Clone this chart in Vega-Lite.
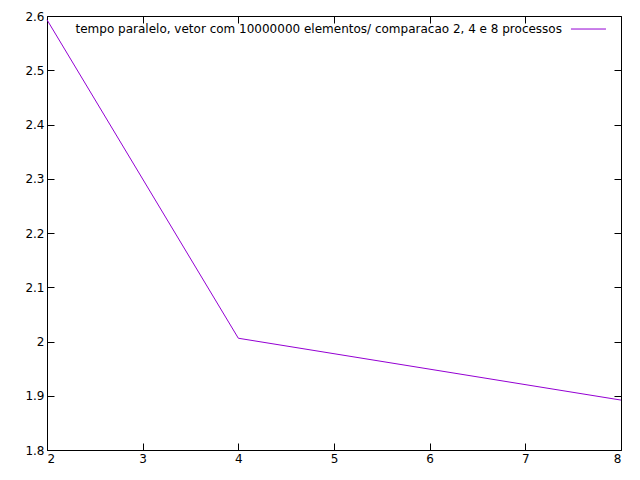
{
  "$schema": "https://vega.github.io/schema/vega-lite/v6.json",
  "width": 574,
  "height": 434,
  "autosize": "none",
  "padding": {"left": 47, "top": 16, "right": 19, "bottom": 30},
  "background": "white",
  "config": {
    "view": {"stroke": "black", "strokeWidth": 1},
    "font": "DejaVu Sans",
    "axis": {
      "grid": false, "domain": false, "tickColor": "black", "tickSize": -7,
      "labelFont": "DejaVu Sans", "labelFontSize": 12, "labelColor": "black",
      "labelPadding": 10, "title": null
    }
  },
  "data": {
    "values": [
      {"processos": 2, "tempo": 2.593},
      {"processos": 4, "tempo": 2.006},
      {"processos": 8, "tempo": 1.892}
    ]
  },
  "resolve": {"axis": {"x": "independent", "y": "independent"}},
  "layer": [
    {
      "mark": {"type": "line", "color": "#9400d3", "strokeWidth": 1},
      "encoding": {
        "x": {"field": "processos", "type": "quantitative", "scale": {"domain": [2, 8], "nice": false},
              "axis": {"orient": "bottom", "values": [2, 3, 4, 5, 6, 7, 8]}},
        "y": {"field": "tempo", "type": "quantitative", "scale": {"domain": [1.8, 2.6], "nice": false, "zero": false},
              "axis": {"orient": "left", "values": [1.8, 1.9, 2.0, 2.1, 2.2, 2.3, 2.4, 2.5, 2.6], "format": ".1~f"}}
      }
    },
    {
      "mark": {"type": "line", "opacity": 0},
      "encoding": {
        "x": {"field": "processos", "type": "quantitative",
              "axis": {"orient": "top", "labels": false, "values": [2, 3, 4, 5, 6, 7, 8]}},
        "y": {"field": "tempo", "type": "quantitative",
              "axis": {"orient": "right", "labels": false, "values": [1.8, 1.9, 2.0, 2.1, 2.2, 2.3, 2.4, 2.5, 2.6]}}
      }
    },
    {
      "data": {"values": [{"lx": 7.383, "ly": 2.576, "label": "tempo paralelo, vetor com 10000000 elementos/ comparacao 2, 4 e 8 processos"}]},
      "mark": {"type": "text", "align": "right", "baseline": "middle", "fontSize": 12, "font": "DejaVu Sans", "color": "black"},
      "encoding": {
        "x": {"field": "lx", "type": "quantitative", "axis": null},
        "y": {"field": "ly", "type": "quantitative", "axis": null},
        "text": {"field": "label"}
      }
    },
    {
      "data": {"values": [{"x1": 7.477, "x2": 7.843, "ly": 2.576}]},
      "mark": {"type": "rule", "color": "#9400d3", "strokeWidth": 1},
      "encoding": {
        "x": {"field": "x1", "type": "quantitative", "axis": null},
        "x2": {"field": "x2"},
        "y": {"field": "ly", "type": "quantitative", "axis": null}
      }
    }
  ]
}
